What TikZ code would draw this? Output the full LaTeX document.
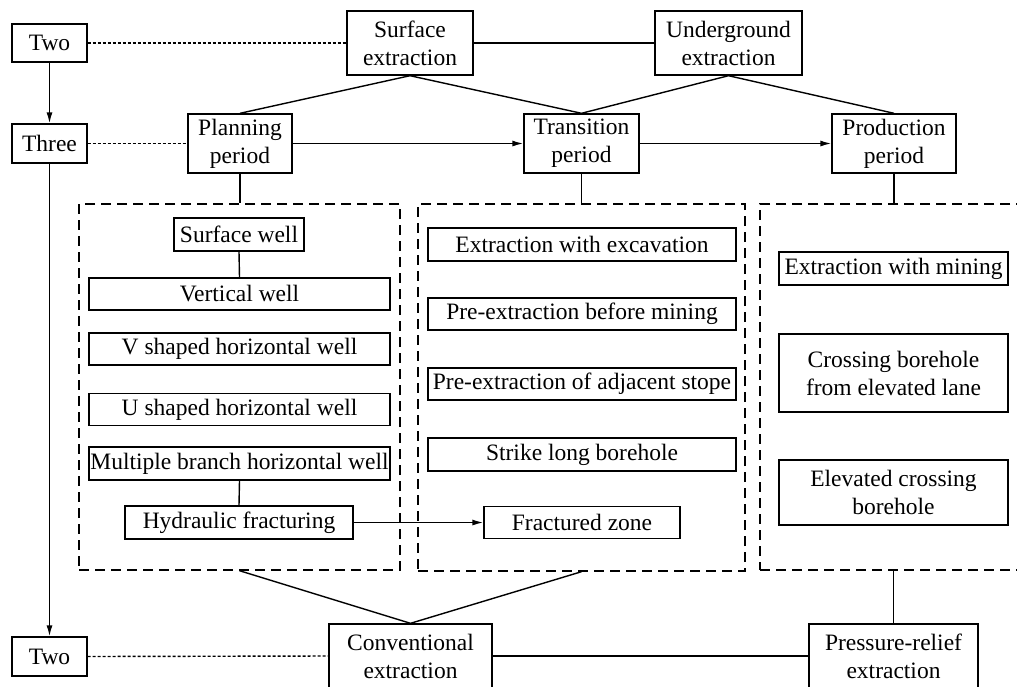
\documentclass[tikz,border=0pt]{standalone}
\usepackage{fontspec}
\setmainfont{Liberation Serif}
\usetikzlibrary{arrows.meta}
\begin{document}
\begin{tikzpicture}[x=1pt,y=-1pt,
  box/.style={draw,line width=1.4pt,inner sep=0pt,align=center,
    font=\fontsize{23.5}{28}\selectfont},
  dbox/.style={draw,line width=1.4pt,inner sep=0pt,dash pattern=on 10pt off 6pt},
  con/.style={line width=1.4pt},
  arr/.style={line width=1.4pt,-{Latex[length=11pt,width=6pt]}},
  dot/.style={line width=1.4pt,dash pattern=on 3pt off 2pt}]
\useasboundingbox (0,0) rectangle (1017,686);
\clip (0,0) rectangle (1017,686);
% left legend
\node[box,minimum width=75pt,minimum height=38pt] (twoA) at (49.5,43) {Two};
\node[box,minimum width=75pt,minimum height=39pt] (three) at (49.5,143.5) {Three};
\node[box,minimum width=75pt,minimum height=39pt] (twoB) at (49.5,656.5) {Two};
% top row
\node[box,minimum width=126pt,minimum height=64pt] (surf) at (410,43) {Surface\\extraction};
\node[box,minimum width=147pt,minimum height=64pt] (under) at (728.5,43) {Underground\\extraction};
% periods
\node[box,minimum width=104pt,minimum height=59pt] (plan) at (240,143.5) {Planning\\period};
\node[box,minimum width=115pt,minimum height=59pt] (trans) at (581.5,143.5) {Transition\\period};
\node[box,minimum width=124pt,minimum height=59pt] (prod) at (894,143.5) {Production\\period};
% dashed groups
\node[dbox,minimum width=321pt,minimum height=366pt] (grpL) at (239.5,387) {};
\node[dbox,minimum width=327pt,minimum height=367pt] (grpM) at (581.5,387.5) {};
\node[dbox,minimum width=270pt,minimum height=366pt] (grpR) at (895,387) {};
% left group
\node[box,minimum width=130pt,minimum height=33pt] (swell) at (239,234.5) {Surface well};
\node[box,minimum width=301pt,minimum height=32pt] (vwell) at (239.5,294) {Vertical well};
\node[box,minimum width=301pt,minimum height=32pt] (vsh) at (239.5,349) {V shaped horizontal well};
\node[box,minimum width=301pt,minimum height=32pt] (ush) at (239.5,409.5) {U shaped horizontal well};
\node[box,minimum width=301pt,minimum height=33pt] (multi) at (239.5,463.5) {Multiple branch horizontal well};
\node[box,minimum width=228pt,minimum height=33pt] (hydro) at (239,522.5) {Hydraulic fracturing};
% middle group
\node[box,minimum width=308pt,minimum height=33pt] (exc) at (582,244.5) {Extraction with excavation};
\node[box,minimum width=308pt,minimum height=32pt] (prem) at (582,314) {Pre-extraction before mining};
\node[box,minimum width=308pt,minimum height=32pt] (pres) at (582,384) {Pre-extraction of adjacent stope};
\node[box,minimum width=308pt,minimum height=33pt] (strike) at (582,454.5) {Strike long borehole};
\node[box,minimum width=196pt,minimum height=32pt] (fract) at (582,522.5) {Fractured zone};
% right group
\node[box,minimum width=229pt,minimum height=33pt] (emin) at (893.5,268.5) {Extraction with mining};
\node[box,minimum width=229pt,minimum height=78pt] (cross) at (893.5,373) {Crossing borehole\\from elevated lane};
\node[box,minimum width=229pt,minimum height=65pt] (elev) at (893.5,492.5) {Elevated crossing\\borehole};
% bottom row
\node[box,minimum width=163pt,minimum height=64pt] (conv) at (410.5,656) {Conventional\\extraction};
\node[box,minimum width=169pt,minimum height=64pt] (press) at (893.5,656) {Pressure-relief\\extraction};
% connectors
\draw[dot] (twoA.east) -- (surf.west);
\draw[dot] (three.east) -- (plan.west);
\draw[dot] (twoB.east) -- (conv.west);
\draw[arr] (twoA.south) -- (three.north);
\draw[arr] (three.south) -- (twoB.north);
\draw[con] (surf.east) -- (under.west);
\draw[con] (surf.south) -- (plan.north);
\draw[con] (surf.south) -- (trans.north);
\draw[con] (under.south) -- (trans.north);
\draw[con] (under.south) -- (prod.north);
\draw[arr] (plan.east) -- (trans.west);
\draw[arr] (trans.east) -- (prod.west);
\draw[con] (plan.south) -- (plan.south |- grpL.north);
\draw[con] (trans.south) -- (trans.south |- grpM.north);
\draw[con] (prod.south) -- (prod.south |- grpR.north);
\draw[con] (swell.south) -- (vwell.north);
\draw[con] (multi.south) -- (hydro.north);
\draw[arr] (hydro.east) -- (fract.west);
\draw[con] (grpL.south) -- (conv.north);
\draw[con] (grpM.south) -- (conv.north);
\draw[con] (press.north |- grpR.south) -- (press.north);
\draw[con] (conv.east) -- (press.west);
\end{tikzpicture}
\end{document}
